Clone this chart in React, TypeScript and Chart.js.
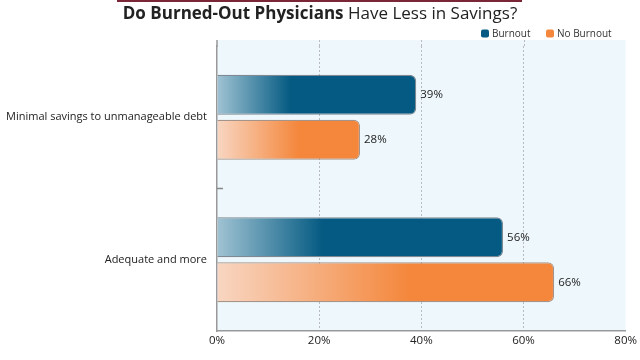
import React, { useEffect, useRef } from "react";
import { Chart, registerables } from "chart.js";

Chart.register(...registerables);

const categories = ["Minimal savings to unmanageable debt", "Adequate and more"];
const burnoutValues = [39, 56];
const noBurnoutValues = [28, 66];
const seriesNames = ["Burnout", "No Burnout"];
const xTicks = [0, 20, 40, 60, 80];
const titleBold = "Do Burned-Out Physicians";
const titleRest = " Have Less in Savings?";

const BLUE = "#045a82";
const BLUE_LIGHT = "#a0c3d3";
const ORANGE = "#f4873c";
const ORANGE_LIGHT = "#f8d6c2";
const FONT = "'Open Sans', 'Noto Sans', sans-serif";

function gradientFill(light: string, dark: string, stop: number) {
  return (ctx: any) => {
    const chart = ctx.chart;
    const xs = chart.scales && chart.scales.x;
    if (!xs || ctx.type !== "data" || ctx.raw == null) return dark;
    const x0 = xs.getPixelForValue(0);
    const x1 = xs.getPixelForValue(ctx.raw);
    if (!isFinite(x0) || !isFinite(x1) || x1 <= x0) return dark;
    const g = chart.ctx.createLinearGradient(x0, 0, x1, 0);
    g.addColorStop(0, light);
    g.addColorStop(stop, dark);
    g.addColorStop(1, dark);
    return g;
  };
}

const EXT = 6;

const decorPlugin = {
  id: "decor",
  beforeDraw(chart: any) {
    const { ctx, chartArea } = chart;
    const xs = chart.scales.x;
    ctx.save();
    ctx.fillStyle = "#eef7fc";
    ctx.fillRect(chartArea.left, chartArea.top - EXT, chartArea.right - chartArea.left, chartArea.bottom - chartArea.top + EXT);
    // extend dotted grid lines & axis line up to top of background
    ctx.strokeStyle = "#b8bcc0";
    ctx.lineWidth = 1;
    ctx.setLineDash([2, 2]);
    xTicks.forEach((v) => {
      if (v <= xTicks[0] || v >= xTicks[xTicks.length - 1]) return;
      const px = Math.round(xs.getPixelForValue(v)) + 0.5;
      ctx.beginPath();
      ctx.moveTo(px, chartArea.top - EXT);
      ctx.lineTo(px, chartArea.top);
      ctx.stroke();
    });
    ctx.setLineDash([]);
    ctx.strokeStyle = "#999";
    ctx.lineWidth = 1.5;
    ctx.beginPath();
    ctx.moveTo(chartArea.left, chartArea.top - EXT);
    ctx.lineTo(chartArea.left, chartArea.top + 1);
    ctx.stroke();
    ctx.restore();
  },
  afterDatasetsDraw(chart: any) {
    const { ctx } = chart;
    ctx.save();
    ctx.font = `11.5px ${FONT}`;
    ctx.fillStyle = "#222";
    ctx.textBaseline = "middle";
    ctx.textAlign = "left";
    chart.data.datasets.forEach((ds: any, di: number) => {
      const meta = chart.getDatasetMeta(di);
      meta.data.forEach((el: any, i: number) => {
        ctx.fillText(ds.data[i] + "%", el.x + 4, el.y);
      });
    });
    const ys = chart.scales.y;
    const xs = chart.scales.x;
    ctx.strokeStyle = "#888";
    ctx.lineWidth = 1.5;
    for (let i = 0; i < categories.length - 1; i++) {
      const yb = (ys.getPixelForValue(i) + ys.getPixelForValue(i + 1)) / 2;
      ctx.beginPath();
      ctx.moveTo(xs.left, yb);
      ctx.lineTo(xs.left + 6, yb);
      ctx.stroke();
    }
    ctx.restore();
  },
  afterDraw(chart: any) {
    const { ctx, width } = chart;
    ctx.save();
    ctx.fillStyle = "#7b2636";
    ctx.fillRect(117, 0, 405, 2);
    ctx.textBaseline = "middle";
    ctx.textAlign = "left";
    const fb = `bold 17px ${FONT}`;
    const fn = `17px ${FONT}`;
    ctx.font = fb;
    const wb = ctx.measureText(titleBold).width;
    ctx.font = fn;
    const wn = ctx.measureText(titleRest).width;
    const x = width / 2 - (wb + wn) / 2;
    ctx.fillStyle = "#222";
    ctx.font = fb;
    ctx.fillText(titleBold, x, 14);
    ctx.font = fn;
    ctx.fillText(titleRest, x + wb, 14);
    ctx.font = `10px ${FONT}`;
    const items = chart.data.datasets.map((d: any) => ({ label: d.label, color: d.legendColor }));
    let lx = 481;
    items.forEach((it: any) => {
      ctx.fillStyle = it.color;
      ctx.beginPath();
      (ctx as any).roundRect(lx, 29.5, 8, 8, 2);
      ctx.fill();
      ctx.fillStyle = "#333";
      ctx.fillText(it.label, lx + 11, 34);
      lx += 65;
    });
    ctx.restore();
  },
};

export default function App() {
  const ref = useRef<HTMLCanvasElement | null>(null);
  useEffect(() => {
    if (!ref.current) return;
    const chart = new Chart(ref.current, {
      type: "bar",
      data: {
        labels: categories,
        datasets: [
          {
            label: seriesNames[0],
            data: burnoutValues,
            backgroundColor: gradientFill(BLUE_LIGHT, BLUE, 0.37),
            borderColor: "rgba(90,100,110,0.75)",
            borderWidth: 1.2,
            borderSkipped: "start",
            borderRadius: 6,
            categoryPercentage: 0.632,
            barPercentage: 0.89,
            legendColor: BLUE,
          } as any,
          {
            label: seriesNames[1],
            data: noBurnoutValues,
            backgroundColor: gradientFill(ORANGE_LIGHT, ORANGE, 0.57),
            borderColor: "rgba(140,115,100,0.75)",
            borderWidth: 1.2,
            borderSkipped: "start",
            borderRadius: 6,
            categoryPercentage: 0.632,
            barPercentage: 0.89,
            legendColor: ORANGE,
          } as any,
        ],
      },
      options: {
        indexAxis: "y",
        responsive: false,
        animation: false,
        layout: { padding: { top: 46, right: 13, bottom: 0, left: 0 } },
        plugins: { legend: { display: false }, tooltip: { enabled: false }, title: { display: false } },
        scales: {
          x: {
            min: xTicks[0],
            max: xTicks[xTicks.length - 1],
            afterBuildTicks: (s: any) => {
              s.ticks = xTicks.map((v) => ({ value: v }));
            },
            afterFit: (s: any) => {
              s.height = 29;
            },
            ticks: {
              callback: (v: any) => v + "%",
              color: "#222",
              font: { family: FONT, size: 11.5 },
              padding: 3,
              maxRotation: 0,
            },
            grid: {
              drawTicks: false,
              color: (c: any) => (c.tick && c.tick.value > 0 && c.tick.value < 80 ? "#b8bcc0" : "rgba(0,0,0,0)"),
              lineWidth: 1,
            },
            border: { display: true, color: "#999", width: 1.5, dash: [2, 2] } as any,
          },
          y: {
            afterFit: (s: any) => {
              s.width = 217;
            },
            ticks: {
              color: "#222",
              font: { family: FONT, size: 11 },
              padding: 10,
            },
            grid: { display: false, drawTicks: false },
            border: { display: true, color: "#999", width: 1.5 },
          },
        },
      },
      plugins: [decorPlugin],
    });
    return () => chart.destroy();
  }, []);
  return (
    <div style={{ position: "absolute", left: 0, top: 0, width: 640, height: 360, background: "#fff" }}>
      <canvas ref={ref} width={640} height={360} style={{ display: "block" }} />
    </div>
  );
}
